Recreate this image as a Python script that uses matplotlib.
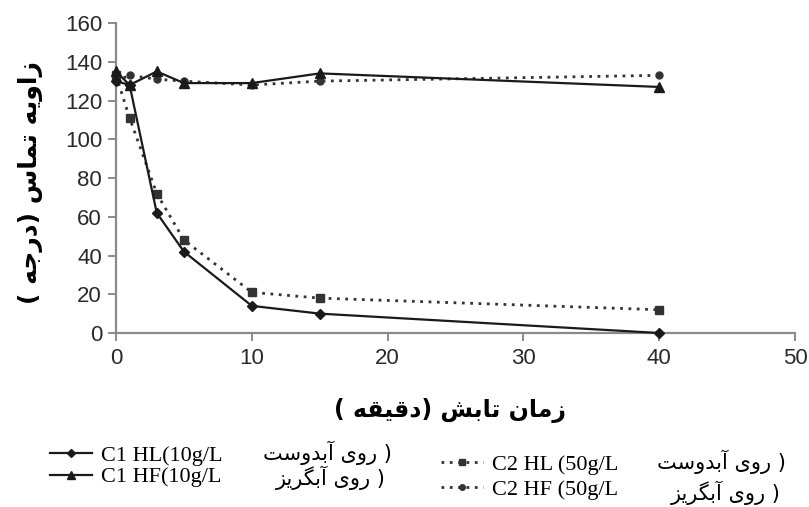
import matplotlib.pyplot as plt
from matplotlib.lines import Line2D

# contact angle vs. irradiation time
t_min = [0, 1, 3, 5, 10, 15, 40]
c1_hl = [130, 128, 62, 42, 14, 10, 0]
c2_hl = [133, 111, 72, 48, 21, 18, 12]
c1_hf = [135, 128, 135, 129, 129, 134, 127]
c2_hf = [130, 133, 131, 130, 128, 130, 133]

x_ticks = [0, 10, 20, 30, 40, 50]
y_ticks = [0, 20, 40, 60, 80, 100, 120, 140, 160]

x_title = "زمان تابش (دقیقه )"
y_title = "زاویه تماس (درجه )"
lat_labels = ["C1 HL(10g/L", "C1 HF(10g/L", "C2 HL (50g/L", "C2 HF (50g/L"]
fa_labels = ["( روی آبدوست", "( روی آبگریز", "( روی آبدوست", "( روی آبگریز"]

# matplotlib does no arabic shaping, so pick the presentation forms by hand
# (isolated, final, initial, medial); None = letter never joins to the next one
FORMS = {
    '\u0627': ('\uFE8D', '\uFE8E', None, None),
    '\u0622': ('\uFE81', '\uFE82', None, None),
    '\u0628': ('\uFE8F', '\uFE90', '\uFE91', '\uFE92'),
    '\u062A': ('\uFE95', '\uFE96', '\uFE97', '\uFE98'),
    '\u062C': ('\uFE9D', '\uFE9E', '\uFE9F', '\uFEA0'),
    '\u062F': ('\uFEA9', '\uFEAA', None, None),
    '\u0631': ('\uFEAD', '\uFEAE', None, None),
    '\u0632': ('\uFEAF', '\uFEB0', None, None),
    '\u0633': ('\uFEB1', '\uFEB2', '\uFEB3', '\uFEB4'),
    '\u0634': ('\uFEB5', '\uFEB6', '\uFEB7', '\uFEB8'),
    '\u0642': ('\uFED5', '\uFED6', '\uFED7', '\uFED8'),
    '\u0645': ('\uFEE1', '\uFEE2', '\uFEE3', '\uFEE4'),
    '\u0646': ('\uFEE5', '\uFEE6', '\uFEE7', '\uFEE8'),
    '\u0647': ('\uFEE9', '\uFEEA', '\uFEEB', '\uFEEC'),
    '\u0648': ('\uFEED', '\uFEEE', None, None),
    '\u06CC': ('\uFBFC', '\uFBFD', '\uFBFE', '\uFBFF'),
    '\u06AF': ('\uFB92', '\uFB93', '\uFB94', '\uFB95'),
}


def fa(s):
    s = s.replace('\u064A', '\u06CC')
    out = []
    for i, ch in enumerate(s):
        if ch not in FORMS:
            out.append({'(': ')', ')': '('}.get(ch, ch))
            continue
        f = FORMS[ch]
        prev = s[i - 1] if i > 0 else ''
        nxt = s[i + 1] if i + 1 < len(s) else ''
        jp = prev in FORMS and FORMS[prev][2] is not None
        jn = f[2] is not None and nxt in FORMS
        if jp and jn:
            out.append(f[3])
        elif jp:
            out.append(f[1])
        elif jn:
            out.append(f[2])
        else:
            out.append(f[0])
    return ''.join(reversed(out))


plt.rcParams['font.family'] = ['Liberation Sans', 'DejaVu Sans']

fig = plt.figure(figsize=(8.09, 5.07), dpi=100)
ax = fig.add_axes([0.1434, 0.3432, 0.8393, 0.6114])

solid = dict(color='#1a1a1a', lw=1.6)
dotted = dict(color='#333333', lw=2.0, linestyle=(0, (1, 2)))

ax.plot(t_min, c2_hl, marker='s', ms=5.5, **dotted, zorder=3)
ax.plot(t_min, c2_hf, marker='o', ms=5, **dotted, zorder=3)
ax.plot(t_min, c1_hl, marker='D', ms=5, **solid, zorder=4)
ax.plot(t_min, c1_hf, marker='^', ms=7, **solid, zorder=4)

ax.set_xlim(0, 50)
ax.set_ylim(0, 160)
ax.set_xticks(x_ticks)
ax.set_yticks(y_ticks)
for side in ['top', 'right']:
    ax.spines[side].set_visible(False)
for side in ['left', 'bottom']:
    ax.spines[side].set_color('#8a8a8a')
    ax.spines[side].set_linewidth(1.6)
ax.tick_params(colors='#8a8a8a', width=1.4, length=6, labelsize=16,
               labelcolor='#2a2a2a')
ax.tick_params(axis='x', pad=5)
ax.tick_params(axis='y', pad=4)
for ln in ax.lines:
    ln.set_clip_on(False)

fig.text(0.556, 0.19, fa(x_title), ha='center', va='center',
         fontsize=17, fontweight='bold', family='DejaVu Sans')
fig.text(0.038, 0.64, fa(y_title), ha='center', va='center', rotation=90,
         fontsize=18, fontweight='bold', family='DejaVu Sans')

# legend: two columns, the persian part of each label set beside it
handles = [
    Line2D([], [], marker='D', ms=4, **solid),
    Line2D([], [], marker='^', ms=6, **solid),
    Line2D([], [], marker='s', ms=4, **dotted),
    Line2D([], [], marker='o', ms=4, **dotted),
]
leg_kw = dict(loc='upper left', frameon=False, borderpad=0, borderaxespad=0,
              prop=dict(family='Liberation Serif', size=16),
              handlelength=1.9, handletextpad=0.4)
fig.legend(handles[:2], lat_labels[:2], bbox_to_anchor=(0.062, 0.122),
           labelspacing=0.05, **leg_kw)
fig.legend(handles[2:], lat_labels[2:], bbox_to_anchor=(0.545, 0.104),
           labelspacing=0.2, **leg_kw)

fa_font = dict(family='DejaVu Sans', fontsize=15, va='center', ha='right')
fig.text(0.484, 0.106, fa(fa_labels[0]), **fa_font)
fig.text(0.477, 0.057, fa(fa_labels[1]), **fa_font)
fig.text(0.972, 0.090, fa(fa_labels[2]), **fa_font)
fig.text(0.965, 0.027, fa(fa_labels[3]), **fa_font)

fig.savefig('out.png', dpi=100)
